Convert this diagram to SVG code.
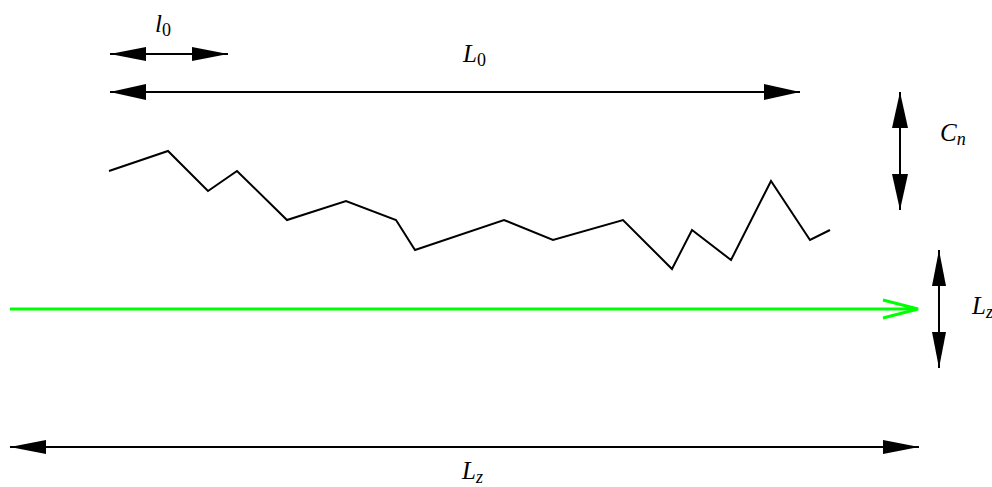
<svg xmlns="http://www.w3.org/2000/svg" width="992" height="487" viewBox="0 0 992 487">
<style>
.ln{stroke:#000;stroke-width:2;fill:none}
.lbl{font-family:"Liberation Serif",serif;font-size:25px;font-style:italic;fill:#000}
.sub{font-size:18px;font-style:normal}
.subi{font-size:18px;font-style:italic}
</style>
<defs>
<marker id="h" markerUnits="userSpaceOnUse" markerWidth="38" markerHeight="18" refX="36" refY="8" orient="auto-start-reverse" viewBox="0 0 38 18">
<path d="M0,0 L36,8 L0,16 z" fill="#000"/>
</marker>
<marker id="hs" markerUnits="userSpaceOnUse" markerWidth="38" markerHeight="16" refX="36" refY="7" orient="auto-start-reverse" viewBox="0 0 38 16">
<path d="M0,0 L36,7 L0,14 z" fill="#000"/>
</marker>
</defs>
<g id="connectors">
<line id="l0-arrow" class="ln" x1="110" y1="54" x2="228" y2="54" marker-start="url(#hs)" marker-end="url(#hs)"/>
<line id="L0-arrow" class="ln" x1="110" y1="92" x2="800" y2="92" marker-start="url(#h)" marker-end="url(#h)"/>
<line id="Cn-arrow" class="ln" x1="900" y1="92" x2="900" y2="210" marker-start="url(#h)" marker-end="url(#h)"/>
<line id="Lr-arrow" class="ln" x1="939" y1="250" x2="939" y2="368" marker-start="url(#hs)" marker-end="url(#hs)"/>
<line id="Lz-arrow" class="ln" x1="10" y1="447" x2="919" y2="447" marker-start="url(#hs)" marker-end="url(#hs)"/>
<g id="green-arrow" stroke="#00ff00" stroke-width="3" fill="none">
<line x1="10" y1="309" x2="916" y2="309"/>
<polyline points="883,300 918,309 883,318"/>
</g>
</g>
<g id="rough-line">
<polyline class="ln" points="109,171 168,151 208,191 237,171 287,220 346,201 396,220 415,250 504,220 553,240 623,220 672,269 692,230 731,260 771,181 810,240 830,230"/>
</g>
<g id="labels">
<text id="l0" class="lbl" x="155" y="32">l<tspan class="sub" dy="4">0</tspan></text>
<text id="L0" class="lbl" x="463" y="62">L<tspan class="sub" dy="4">0</tspan></text>
<text id="Cn" class="lbl" x="940" y="141">C<tspan class="subi" dy="4">n</tspan></text>
<text id="Lr" class="lbl" x="972" y="314">L<tspan class="subi" dy="4">z</tspan></text>
<text id="Lz" class="lbl" x="462" y="479">L<tspan class="subi" dy="4">z</tspan></text>
</g>
</svg>
